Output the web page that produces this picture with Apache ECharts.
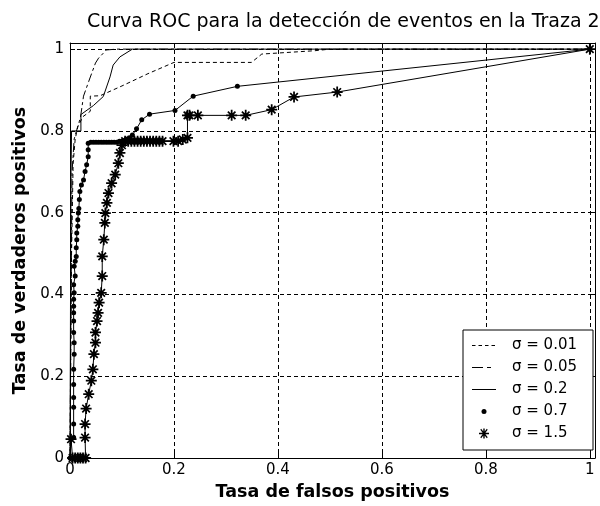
<!DOCTYPE html>
<html>
<head>
<meta charset="utf-8"/>
<title>Curva ROC</title>
<script src="https://cdn.jsdelivr.net/npm/echarts@6/dist/echarts.min.js"></script>
<style>
  html, body { margin: 0; padding: 0; background: #fff; }
  #container { width: 600px; height: 506px; }
</style>
</head>
<body>
<div id="container"></div>
<script type="text/javascript">
    // nombres de las curvas (leyenda)
    var names = ['σ = 0.01', 'σ = 0.05', 'σ = 0.2', 'σ = 0.7', 'σ = 1.5'];

    // sigma = 0.01 (linea de trazos cortos)
    var s1X = [0, 0.003, 0.006, 0.01, 0.015, 0.025, 0.039, 0.039, 0.058, 0.1, 0.15, 0.2, 0.349, 0.369, 0.47, 0.5, 1];
    var s1Y = [0, 0.5, 0.72, 0.78, 0.81, 0.835, 0.848, 0.885, 0.886, 0.91, 0.94, 0.9675, 0.9675, 0.988, 0.996, 1, 1];

    // sigma = 0.05 (trazo y punto)
    var s2X = [0, 0.002, 0.004, 0.008, 0.013, 0.02, 0.026, 0.036, 0.049, 0.055, 0.07, 0.09, 1];
    var s2Y = [0, 0.4, 0.7, 0.78, 0.803, 0.832, 0.885, 0.921, 0.966, 0.978, 0.998, 1, 1];

    // sigma = 0.2 (continua)
    var s3X = [0, 0.001, 0.002, 0.003, 0.021, 0.021, 0.045, 0.064, 0.077, 0.083, 0.096, 0.12, 1];
    var s3Y = [0, 0.4, 0.7, 0.8, 0.8, 0.84, 0.862, 0.884, 0.932, 0.961, 0.981, 1, 1];

    // sigma = 0.7 (puntos)
    var s4X = [0, 0.003, 0.002, 0.007, 0.007, 0.007, 0.007, 0.007, 0.007, 0.008, 0.008, 0.007, 0.007, 0.007,
               0.007, 0.007, 0.008, 0.007, 0.01, 0.008, 0.01, 0.012, 0.012, 0.013, 0.013, 0.015, 0.015, 0.016,
               0.017, 0.018, 0.019, 0.022, 0.026, 0.029, 0.032, 0.035, 0.035, 0.035, 0.04, 0.045, 0.05, 0.055,
               0.06, 0.065, 0.07, 0.075, 0.08, 0.085, 0.09, 0.095, 0.1, 0.105, 0.11, 0.115, 0.12, 0.128, 0.138,
               0.153, 0.202, 0.237, 0.322, 1];
    var s4Y = [0, 0, 0.046, 0.05, 0.083, 0.124, 0.148, 0.18, 0.217, 0.254, 0.282, 0.307, 0.335, 0.355,
               0.371, 0.388, 0.404, 0.424, 0.445, 0.469, 0.481, 0.493, 0.514, 0.534, 0.55, 0.567, 0.583, 0.599,
               0.61, 0.632, 0.652, 0.668, 0.68, 0.701, 0.717, 0.737, 0.754, 0.77, 0.772, 0.772, 0.772, 0.772,
               0.772, 0.772, 0.772, 0.772, 0.772, 0.772, 0.772, 0.775, 0.775, 0.777, 0.78, 0.783, 0.79, 0.805, 0.827,
               0.841, 0.85, 0.885, 0.909, 1];

    // sigma = 1.5 (asteriscos)
    var s5X = [0.002, 0.005, 0.01, 0.015, 0.02, 0.025, 0.03, 0.029, 0.029, 0.031, 0.036, 0.041, 0.044, 0.046,
               0.049, 0.049, 0.052, 0.054, 0.056, 0.06, 0.062, 0.062, 0.065, 0.067, 0.068, 0.071, 0.074, 0.08,
               0.087, 0.093, 0.096, 0.1, 0.106, 0.112, 0.118, 0.124, 0.13, 0.136, 0.142, 0.148, 0.154, 0.16,
               0.166, 0.172, 0.178, 0.199, 0.208, 0.217, 0.226, 0.226, 0.23, 0.246, 0.311, 0.338, 0.388, 0.431,
               0.514, 1];
    var s5Y = [0.046, 0, 0, 0, 0, 0, 0, 0.05, 0.083, 0.121, 0.156, 0.189, 0.217, 0.254,
               0.282, 0.307, 0.335, 0.355, 0.38, 0.404, 0.445, 0.493, 0.534, 0.575, 0.599, 0.624, 0.648, 0.672,
               0.693, 0.721, 0.746, 0.765, 0.775, 0.775, 0.775, 0.775, 0.775, 0.775, 0.775, 0.775, 0.775, 0.775,
               0.775, 0.775, 0.775, 0.775, 0.775, 0.779, 0.783, 0.838, 0.838, 0.838, 0.838, 0.838, 0.852, 0.883,
               0.895, 1];

    var xTicks = [0, 0.2, 0.4, 0.6, 0.8, 1];
    var yTicks = [0, 0.2, 0.4, 0.6, 0.8, 1];

    function pares(xs, ys) {
        var out = [];
        for (var i = 0; i < xs.length; i++) {
            out.push([xs[i], ys[i]]);
        }
        return out;
    }

    // solo se etiquetan los valores de la lista de ticks
    function etiqueta(lista) {
        return function (v) {
            for (var i = 0; i < lista.length; i++) {
                if (Math.abs(v - lista[i]) < 1e-6) return String(lista[i]);
            }
            return '';
        };
    }

    var fuente = 'DejaVu Sans, Verdana, sans-serif';
    var asterisco = 'path://M4.2,0H5.8V10H4.2Z M0,4.2H10V5.8H0Z M1,2.1L2.1,1L9,7.9L7.9,9Z M7.9,1L9,2.1L2.1,9L1,7.9Z';
    // iconos de leyenda: caja 24x14, el dibujo va en el centro
    var iconoTrazos = 'path://M0,0 M24,14 M0,6.5H3.5V7.5H0Z M6.5,6.5H10V7.5H6.5Z M13,6.5H16.5V7.5H13Z M19.5,6.5H23V7.5H19.5Z';
    var iconoTrazoPunto = 'path://M0,0 M24,14 M0,6.5H11V7.5H0Z M15,6.5H19V7.5H15Z';
    var iconoLinea = 'path://M0,0 M24,14 M0,6.5H24V7.5H0Z';
    var iconoPunto = 'path://M0,0 M24,14 M9.5,7a2.5,2.5 0 1 0 5,0a2.5,2.5 0 1 0 -5,0Z';
    var iconoAsterisco = 'path://M0,0 M24,14 M11.3,2H12.7V12H11.3Z M7,6.3H17V7.7H7Z M8.3,3.2L9.2,2.3L15.7,10.8L14.8,11.7Z M14.8,2.3L15.7,3.2L9.2,11.7L8.3,10.8Z';

    var myChart = echarts.init(document.getElementById('container'));

    var option = {
        animation: false,
        backgroundColor: '#ffffff',
        title: {
            text: 'Curva ROC para la detección de eventos en la Traza 2',
            left: 87,
            top: 13,
            padding: 0,
            textStyle: {
                fontFamily: fuente,
                fontSize: 19,
                fontWeight: 'normal',
                color: '#000'
            }
        },
        grid: {
            left: 70,
            right: 5,
            top: 43,
            bottom: 47
        },
        legend: {
            orient: 'vertical',
            left: 463,
            top: 330,
            padding: [8, 16, 9, 9],
            itemWidth: 24,
            itemHeight: 14,
            itemGap: 7,
            backgroundColor: '#fff',
            borderColor: '#000',
            borderWidth: 1,
            borderRadius: 0,
            textStyle: {
                fontFamily: fuente,
                fontSize: 15,
                color: '#000',
                padding: [0, 0, 0, 11]
            },
            data: [
                { name: names[0], icon: iconoTrazos },
                { name: names[1], icon: iconoTrazoPunto },
                { name: names[2], icon: iconoLinea },
                { name: names[3], icon: iconoPunto },
                { name: names[4], icon: iconoAsterisco }
            ]
        },
        xAxis: [{
            type: 'value',
            min: 0,
            max: 1.01,
            interval: 0.2,
            name: 'Tasa de falsos positivos',
            nameLocation: 'middle',
            nameGap: 25,
            nameTextStyle: { fontFamily: fuente, fontSize: 17.5, fontWeight: 'bold', color: '#000' },
            axisLine: { lineStyle: { color: '#000', width: 1 } },
            axisTick: { inside: true, length: 5, lineStyle: { color: '#000' } },
            axisLabel: { fontFamily: fuente, fontSize: 15, color: '#000', margin: 5, formatter: etiqueta(xTicks), showMaxLabel: false },
            splitLine: { show: true, lineStyle: { color: '#000', type: [4, 3], width: 1 } }
        }, {
            type: 'value',
            position: 'top',
            min: 0,
            max: 1.01,
            interval: 0.2,
            axisLine: { show: true, onZero: false, lineStyle: { color: '#000', width: 1 } },
            axisTick: { inside: true, length: 5, lineStyle: { color: '#000' } },
            axisLabel: { show: false },
            splitLine: { show: false }
        }],
        yAxis: [{
            type: 'value',
            min: 0,
            max: 1.015,
            interval: 0.2,
            name: 'Tasa de verdaderos positivos',
            nameLocation: 'middle',
            nameGap: 39,
            nameTextStyle: { fontFamily: fuente, fontSize: 17.5, fontWeight: 'bold', color: '#000' },
            axisLine: { show: true, lineStyle: { color: '#000', width: 1 } },
            axisTick: { show: true, inside: true, length: 5, lineStyle: { color: '#000' } },
            axisLabel: { fontFamily: fuente, fontSize: 15, color: '#000', margin: 6, formatter: etiqueta(yTicks), showMaxLabel: false },
            splitLine: { show: true, lineStyle: { color: '#000', type: [4, 3], width: 1 } }
        }, {
            type: 'value',
            position: 'right',
            min: 0,
            max: 1.015,
            interval: 0.2,
            axisLine: { show: true, onZero: false, lineStyle: { color: '#000', width: 1 } },
            axisTick: { show: true, inside: true, length: 5, lineStyle: { color: '#000' } },
            axisLabel: { show: false },
            splitLine: { show: false }
        }],
        series: [{
            name: names[0],
            type: 'line',
            symbol: 'none',
            color: '#000',
            lineStyle: { color: '#000', width: 1, type: [4, 3] },
            data: pares(s1X, s1Y)
        }, {
            name: names[1],
            type: 'line',
            symbol: 'none',
            color: '#000',
            lineStyle: { color: '#000', width: 1, type: [9, 3, 3, 3] },
            data: pares(s2X, s2Y)
        }, {
            name: names[2],
            type: 'line',
            symbol: 'none',
            color: '#000',
            lineStyle: { color: '#000', width: 1, type: 'solid' },
            data: pares(s3X, s3Y)
        }, {
            name: names[3],
            type: 'line',
            symbol: 'circle',
            symbolSize: 5,
            color: '#000',
            itemStyle: { color: '#000' },
            lineStyle: { color: '#000', width: 1 },
            data: pares(s4X, s4Y)
        }, {
            name: names[4],
            type: 'line',
            symbol: asterisco,
            symbolSize: 11,
            symbolKeepAspect: true,
            color: '#000',
            itemStyle: { color: '#000' },
            lineStyle: { color: '#000', width: 1 },
            data: pares(s5X, s5Y)
        }]
    };

    myChart.setOption(option);
</script>
</body>
</html>
